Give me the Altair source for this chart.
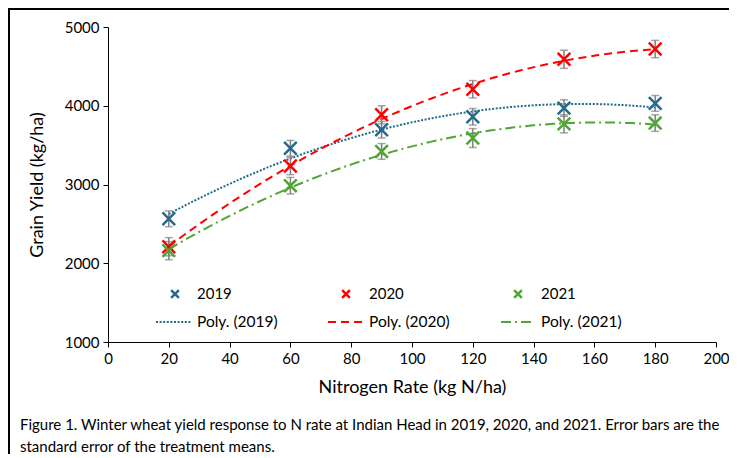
import altair as alt
import pandas as pd

# ---- data ----
n_rate = [20, 60, 90, 120, 150, 180]
years = ["2019", "2020", "2021"]
yield_2019 = [2565, 3460, 3695, 3860, 3970, 4030]
yield_2020 = [2210, 3235, 3885, 4210, 4590, 4720]
yield_2021 = [2160, 2985, 3420, 3590, 3770, 3780]
se_2019 = [100, 100, 105, 105, 105, 100]
se_2020 = [115, 110, 115, 110, 115, 110]
se_2021 = [115, 105, 100, 120, 115, 105]
x_ticks = list(range(0, 201, 20))
y_ticks = list(range(1000, 5001, 500))
caption_1 = ("Figure 1. Winter wheat yield response to N rate at Indian Head in 2019, 2020, "
             "and 2021. Error bars are the")
caption_2 = "standard error of the treatment means."

colors = ["#236B8E", "#FF0000", "#4FA632"]
dashes = [[2, 1.6], [8, 5], [10, 4, 2, 4]]

rows = []
for yr, ys, ses in zip(years, [yield_2019, yield_2020, yield_2021], [se_2019, se_2020, se_2021]):
    for n, v, s in zip(n_rate, ys, ses):
        rows.append({"N": n, "Yield": v, "SE": s, "Year": yr})
df = pd.DataFrame(rows)

FONT = "Lato"
OX = 2  # horizontal offset of plot origin relative to page layout reference

xenc = alt.X("N:Q", scale=alt.Scale(domain=[0, 200], nice=False),
             axis=alt.Axis(values=x_ticks, title="Nitrogen Rate (kg N/ha)", titlePadding=12,
                           labelFlush=False))
yenc = alt.Y("Yield:Q", scale=alt.Scale(domain=[1000, 5000], nice=False, zero=False),
             axis=alt.Axis(values=y_ticks, format="d", title="Grain Yield (kg/ha)", titlePadding=18))
cenc = alt.Color("Year:N", scale=alt.Scale(domain=years, range=colors), legend=None)

base = alt.Chart(df)

trend = base.transform_regression(
    "N", "Yield", groupby=["Year"], method="poly", order=2, extent=[20, 180]
).mark_line(strokeWidth=2, clip=False).encode(
    x=xenc, y=yenc, color=cenc,
    strokeDash=alt.StrokeDash("Year:N", scale=alt.Scale(domain=years, range=dashes), legend=None),
)

err = base.transform_calculate(
    lo="datum.Yield - datum.SE", hi="datum.Yield + datum.SE"
).mark_rule(color="#7F7F7F", strokeWidth=1.5).encode(x=xenc, y="lo:Q", y2="hi:Q")

cap_lo = base.transform_calculate(lo="datum.Yield - datum.SE").mark_tick(
    orient="horizontal", color="#7F7F7F", size=8, thickness=1.5).encode(x=xenc, y="lo:Q")
cap_hi = base.transform_calculate(hi="datum.Yield + datum.SE").mark_tick(
    orient="horizontal", color="#7F7F7F", size=8, thickness=1.5).encode(x=xenc, y="hi:Q")

XSHAPE = "M-1,-1L1,1M1,-1L-1,1"
pts = base.mark_point(shape=XSHAPE, size=160, strokeWidth=2.5, filled=False, opacity=1).encode(
    x=xenc, y=yenc, color=cenc)

one = alt.Data(values=[{}])
layers = [trend, err, cap_lo, cap_hi, pts]

# ---- manual legend (inside plot, 3 columns x 2 rows) ----
leg_marker_x = [65, 236, 408]
leg_text_x = [87, 259, 431]
leg_line_x = [(46, 82), (218, 255), (391, 421)]
row1_y, row2_y = 267, 295
for i, yr in enumerate(years):
    layers.append(alt.Chart(one).mark_point(
        shape=XSHAPE, size=60, strokeWidth=2.5, filled=False, color=colors[i], opacity=1
    ).encode(x=alt.value(leg_marker_x[i] + OX), y=alt.value(row1_y)))
    layers.append(alt.Chart(one).mark_text(
        text=yr, align="left", baseline="middle", font=FONT, fontSize=15, color="#000000"
    ).encode(x=alt.value(leg_text_x[i] + OX), y=alt.value(row1_y)))
    layers.append(alt.Chart(one).mark_rule(
        color=colors[i], strokeWidth=2, strokeDash=dashes[i]
    ).encode(x=alt.value(leg_line_x[i][0] + OX), x2=alt.value(leg_line_x[i][1] + OX),
             y=alt.value(row2_y)))
    layers.append(alt.Chart(one).mark_text(
        text=f"Poly. ({yr})", align="left", baseline="middle", font=FONT, fontSize=15.5, color="#000000"
    ).encode(x=alt.value(leg_text_x[i] + OX), y=alt.value(row2_y)))

# ---- caption ----
layers.append(alt.Chart(one).mark_text(
    text=caption_1, align="left", baseline="middle", font=FONT, fontSize=15, color="#000000"
).encode(x=alt.value(-90 + OX), y=alt.value(398)))
layers.append(alt.Chart(one).mark_text(
    text=caption_2, align="left", baseline="middle", font=FONT, fontSize=15, color="#000000"
).encode(x=alt.value(-90 + OX), y=alt.value(420)))

# ---- frame (left and top edges) ----
layers.append(alt.Chart(one).mark_rule(color="#000000", strokeWidth=2).encode(
    x=alt.value(-99), y=alt.value(-19), y2=alt.value(430)))
layers.append(alt.Chart(one).mark_rule(color="#000000", strokeWidth=2).encode(
    x=alt.value(-100), x2=alt.value(621), y=alt.value(-18)))

chart = alt.layer(*layers).properties(
    width=608, height=315,
    autosize=alt.AutoSizeParams(type="none"),
    padding={"left": 100, "top": 19, "right": 13, "bottom": 112},
).configure_view(stroke=None).configure_axis(
    grid=False, domainColor="#000000", tickColor="#000000", tickSize=5, domainWidth=1,
    labelFont=FONT, labelFontSize=15, labelColor="#000000", labelPadding=4,
    titleFont=FONT, titleFontSize=18, titleFontWeight="normal", titleColor="#000000",
)

chart.save("out.html", embed_options={"renderer": "svg", "actions": False})
